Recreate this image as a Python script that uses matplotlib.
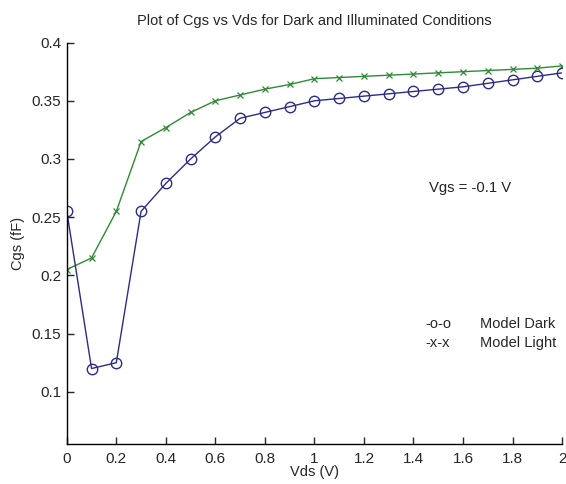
import numpy as np
import matplotlib as mpl

mpl.use("Agg")

import matplotlib.pyplot as plt
import matplotlib.ticker as ticker

# 数据
vds = [0.0, 0.1, 0.2, 0.3, 0.4, 0.5, 0.6, 0.7, 0.8, 0.9, 1.0,
       1.1, 1.2, 1.3, 1.4, 1.5, 1.6, 1.7, 1.8, 1.9, 2.0]
cgs_dark = [0.255, 0.120, 0.125, 0.255, 0.279, 0.300, 0.319, 0.335, 0.340, 0.345, 0.350,
            0.352, 0.354, 0.356, 0.358, 0.360, 0.362, 0.365, 0.368, 0.371, 0.374]
cgs_light = [0.205, 0.215, 0.255, 0.315, 0.327, 0.340, 0.350, 0.355, 0.360, 0.364, 0.369,
             0.370, 0.371, 0.372, 0.373, 0.374, 0.375, 0.376, 0.377, 0.378, 0.380]

x_ticks = [0, 0.2, 0.4, 0.6, 0.8, 1.0, 1.2, 1.4, 1.6, 1.8, 2.0]
x_tick_labels = ["0", "0.2", "0.4", "0.6", "0.8", "1", "1.2", "1.4", "1.6", "1.8", "2"]
y_ticks = [0.1, 0.15, 0.2, 0.25, 0.3, 0.35, 0.4]
y_tick_labels = ["0.1", "0.15", "0.2", "0.25", "0.3", "0.35", "0.4"]

plt.rcParams["font.family"] = ["Liberation Sans", "DejaVu Sans"]
plt.rcParams["axes.linewidth"] = 1.0

fig = plt.figure(figsize=(5.66, 4.84), dpi=100)
ax = fig.add_axes([0.118, 0.083, 0.875, 0.829])

col_dark = "#2c2c88"
col_light = "#2f8a35"
txt_col = "#262626"

ax.plot(vds, cgs_light, color=col_light, lw=1.0, marker="x", ms=4.5, mew=0.9)
ax.plot(vds, cgs_dark, color=col_dark, lw=1.0, marker="o", ms=7.5,
        mfc="none", mec=col_dark, mew=1.0)

ax.set_xlim(0, 2)
ax.set_ylim(0.0553, 0.4)
ax.set_xticks(x_ticks)
ax.set_xticklabels(x_tick_labels)
ax.set_yticks(y_ticks)
ax.set_yticklabels(y_tick_labels)
ax.tick_params(direction="in", length=5, width=1.0, labelsize=11, colors=txt_col)
ax.tick_params(axis="x", pad=6)
ax.tick_params(axis="y", pad=4)

ax.spines["top"].set_visible(False)
ax.spines["right"].set_visible(False)

ax.set_title("Plot of Cgs vs Vds for Dark and Illuminated Conditions",
             fontsize=10.5, pad=13, color=txt_col)
ax.set_xlabel("Vds (V)", fontsize=10.5, labelpad=-1, color=txt_col)
ax.set_ylabel("Cgs (fF)", fontsize=10.5, labelpad=5, color=txt_col)

ax.text(1.463, 0.2752, "Vgs = -0.1 V", fontsize=10.7, va="center", ha="left", color=txt_col)
ax.text(1.449, 0.1584, "-o-o", fontsize=10.5, va="center", ha="left", color=txt_col)
ax.text(1.669, 0.1584, "Model Dark", fontsize=10.5, va="center", ha="left", color=txt_col)
ax.text(1.449, 0.1417, "-x-x", fontsize=10.5, va="center", ha="left", color=txt_col)
ax.text(1.669, 0.1417, "Model Light", fontsize=10.5, va="center", ha="left", color=txt_col)

plt.savefig("out.png", dpi=100)
plt.close()
